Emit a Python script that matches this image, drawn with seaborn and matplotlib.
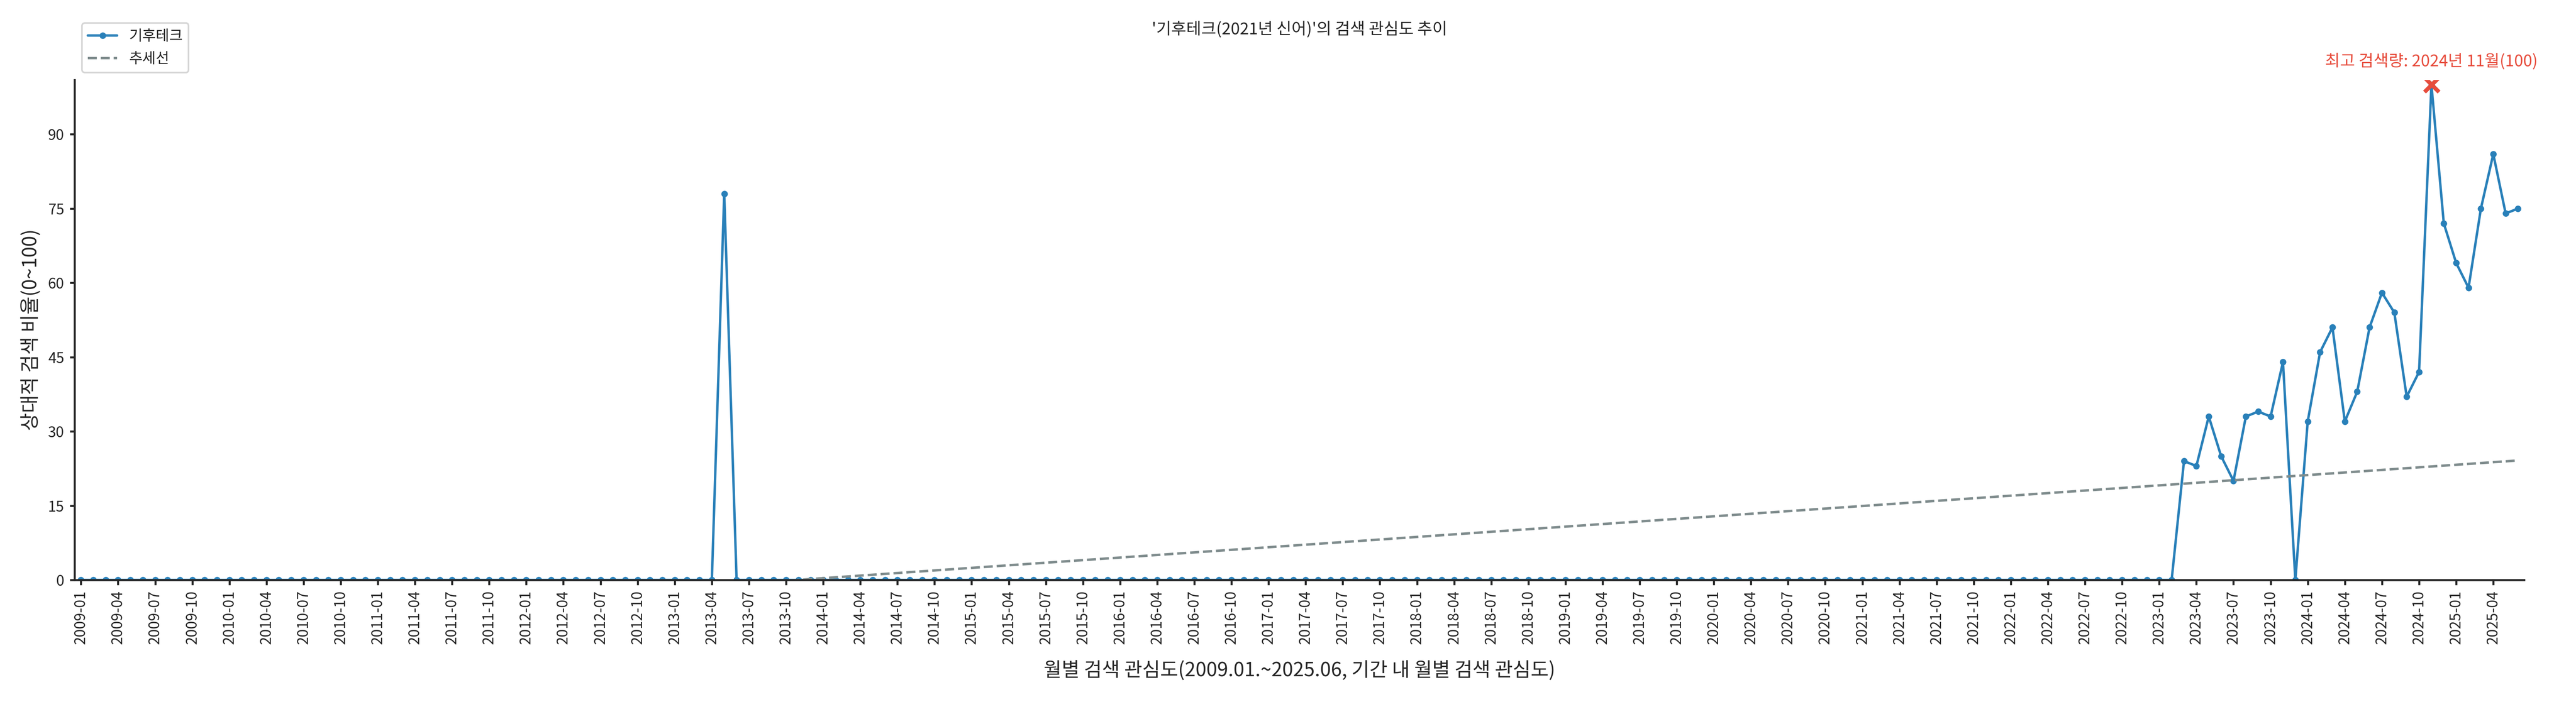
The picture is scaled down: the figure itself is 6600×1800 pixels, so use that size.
import numpy as np
import pandas as pd
import matplotlib
matplotlib.use('Agg')
import matplotlib.pyplot as plt
import seaborn as sns

sns.set_theme(style='white')
plt.rcParams['font.family'] = ['Noto Sans CJK KR', 'DejaVu Sans']
plt.rcParams['axes.unicode_minus'] = False

# monthly data 2009-01 .. 2025-06
months = pd.date_range('2009-01-01', '2025-06-01', freq='MS').strftime('%Y-%m').tolist()
nonzero = {
    '2013-05': 78,
    '2023-03': 24, '2023-04': 23, '2023-05': 33, '2023-06': 25, '2023-07': 20,
    '2023-08': 33, '2023-09': 34, '2023-10': 33, '2023-11': 44, '2023-12': 0,
    '2024-01': 32, '2024-02': 46, '2024-03': 51, '2024-04': 32, '2024-05': 38,
    '2024-06': 51, '2024-07': 58, '2024-08': 54, '2024-09': 37, '2024-10': 42,
    '2024-11': 100, '2024-12': 72, '2025-01': 64, '2025-02': 59, '2025-03': 75,
    '2025-04': 86, '2025-05': 74, '2025-06': 75,
}
values = [nonzero.get(m, 0) for m in months]

df = pd.DataFrame({'month': months, 'value': values})
df['idx'] = np.arange(len(df))

# linear trend
coef = np.polyfit(df['idx'], df['value'], 1)
df['trend'] = np.polyval(coef, df['idx'])

fig, ax = plt.subplots(figsize=(22, 6), dpi=300)
sns.lineplot(data=df, x='idx', y='value', marker='o', markersize=4, markeredgewidth=0,
             color='#2980b9', linewidth=1.5, label='기후테크', ax=ax)
sns.lineplot(data=df, x='idx', y='trend', color='#7f8c8d', linestyle='--',
             linewidth=1.5, label='추세선', ax=ax)

# peak
pk = df['value'].idxmax()
ax.scatter(df.loc[pk, 'idx'], df.loc[pk, 'value'], marker='x', s=80, color='#e74c3c',
           linewidths=2.5, zorder=5)
y, m = df.loc[pk, 'month'].split('-')
ax.text(df.loc[pk, 'idx'], df.loc[pk, 'value'] + 3,
        f'최고 검색량: {y}년 {int(m)}월({df.loc[pk, "value"]})',
        color='#e74c3c', ha='center', va='bottom', fontsize=10)

ax.set_ylim(0, 101)
ax.set_xlim(-0.5, len(df) - 0.5)
ax.set_yticks(range(0, 91, 15))
ax.set_xticks(df['idx'][::3])
ax.set_xticklabels(df['month'][::3], rotation=90, fontsize=9)
ax.tick_params(axis='y', labelsize=9)
ax.tick_params(axis='both', which='both', length=3, left=True, bottom=True)
ax.set_title("'기후테크(2021년 신어)'의 검색 관심도 추이", fontsize=10, pad=28)
ax.set_xlabel('월별 검색 관심도(2009.01.~2025.06, 기간 내 월별 검색 관심도)', fontsize=12, labelpad=10)
ax.set_ylabel('상대적 검색 비율(0~100)', fontsize=12)
ax.legend(loc='lower left', bbox_to_anchor=(0.0, 1.0), fontsize=9, frameon=True)
sns.despine(ax=ax)

plt.tight_layout()
plt.savefig('out.png', dpi=300)
